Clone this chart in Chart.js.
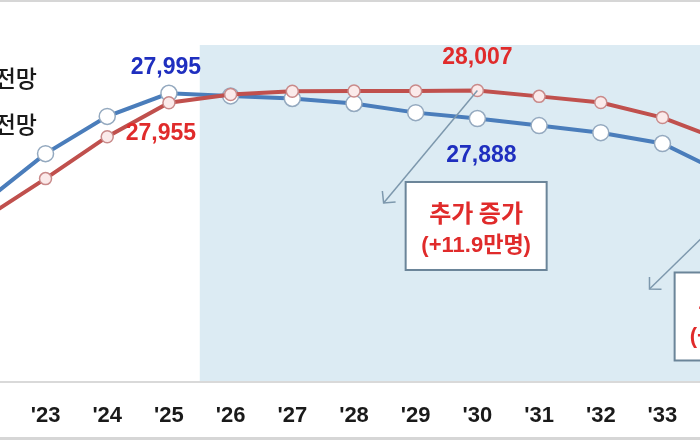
<!DOCTYPE html>
<html><head><meta charset="utf-8">
<script src="https://cdn.jsdelivr.net/npm/chart.js@4.4.1/dist/chart.umd.min.js"></script>
<style>
html,body{margin:0;padding:0;background:#fff;}
#wrap{position:relative;width:700px;height:440px;overflow:hidden;background:#fff;}
#inner{position:absolute;left:-47px;top:0;width:802px;height:440px;}
.frameTop{position:absolute;left:0;top:0;width:700px;height:2px;background:#d6d6d6;}
.frameBot{position:absolute;left:0;bottom:0;width:700px;height:3px;background:#d6d6d6;}
</style></head>
<body>
<div id="wrap"><div id="inner"><canvas id="c"></canvas></div><div class="frameTop"></div><div class="frameBot"></div></div>
<script>
// ---- data ----
const years = ["'22","'23","'24","'25","'26","'27","'28","'29","'30","'31","'32","'33","'34"];
const bluePrev = [27531,27739,27897,27995,27984,27973,27952,27913,27888,27858,27828,27782,27654];
const redNew   = [27463,27633,27811,27955,27990,28004,28005,28005,28007,27982,27956,27892,27792];
const legendTexts = ["전망","전망"];
const noteTexts = [["추가 증가","(+11.9만명)"],["추가 증가","(+30.0만명)"]];

const latin = '"Liberation Sans", "Noto Sans CJK KR", sans-serif';
const BLUE_TXT = '#1f2fbf', RED_TXT = '#e02b2b';

const overlay = {
  id:'overlay',
  beforeDatasetsDraw(chart){
    const {ctx, chartArea:a, scales:{x}} = chart;
    const x0 = (x.getPixelForValue(3) + x.getPixelForValue(4)) / 2;
    ctx.save();
    ctx.fillStyle = '#dcebf3';
    ctx.fillRect(x0, a.top, a.right - x0, a.bottom - a.top - 1);
    ctx.restore();
  },
  afterDatasetsDraw(chart){
    const {ctx, scales:{x,y}} = chart;
    const px = i => x.getPixelForValue(i);
    const py = v => y.getPixelForValue(v);
    ctx.save();
    // arrows
    function arrow(x1,y1,x2,y2){
      ctx.strokeStyle = '#7d98ad'; ctx.lineWidth = 1.5;
      ctx.beginPath(); ctx.moveTo(x1,y1); ctx.lineTo(x2,y2); ctx.stroke();
      const ang = Math.atan2(y1-y2, x1-x2);
      const L = 12;
      ctx.beginPath();
      ctx.moveTo(x2 + L*Math.cos(ang+0.8), y2 + L*Math.sin(ang+0.8));
      ctx.lineTo(x2,y2);
      ctx.lineTo(x2 + L*Math.cos(ang-0.8), y2 + L*Math.sin(ang-0.8));
      ctx.stroke();
    }
    arrow(px(8), py(redNew[8]), px(6.48), py(27530));
    arrow(px(12.6), py(27627), px(10.79), py(27165));
    // note boxes
    function box(ci, cv, lines){
      const cx = px(ci), cy = py(cv), w = 141, h = 88;
      ctx.fillStyle = '#ffffff';
      ctx.fillRect(cx-w/2, cy-h/2, w, h);
      ctx.strokeStyle = '#6b8599'; ctx.lineWidth = 2;
      ctx.strokeRect(cx-w/2, cy-h/2, w, h);
      ctx.fillStyle = RED_TXT; ctx.textAlign = 'center'; ctx.textBaseline = 'middle';
      ctx.font = 'bold 24px "Noto Sans CJK KR", sans-serif';
      ctx.fillText(lines[0], cx, cy-13);
      ctx.font = 'bold 22px ' + latin;
      ctx.fillText(lines[1], cx, cy+20);
    }
    box(7.98, 27432, noteTexts[0]);
    box(12.34, 27048, noteTexts[1]);
    // value labels
    ctx.font = 'bold 23px ' + latin;
    ctx.textAlign = 'center'; ctx.textBaseline = 'middle';
    const fmt = v => v.toLocaleString('en-US');
    ctx.fillStyle = BLUE_TXT;
    ctx.fillText(fmt(bluePrev[3]), px(3)-3, py(bluePrev[3])-26);
    ctx.fillText(fmt(bluePrev[8]), px(8)+4, py(bluePrev[8])+37);
    ctx.fillStyle = RED_TXT;
    ctx.fillText(fmt(redNew[3]), px(3)-8, py(redNew[3])+31);
    ctx.fillText(fmt(redNew[8]), px(8), py(redNew[8])-33);
    // legend texts (cropped)
    ctx.fillStyle = '#1a1a1a'; ctx.textAlign = 'right';
    ctx.font = '500 23px "Noto Sans CJK KR", sans-serif';
    ctx.fillText(legendTexts[0], 84, 78);
    ctx.fillText(legendTexts[1], 84, 124);
    ctx.restore();
  }
};

new Chart(document.getElementById('c'), {
  type:'line',
  data:{
    labels: years,
    datasets:[
      {label:'신규 전망', data: redNew, borderColor:'#c0504d', borderWidth:4,
       pointRadius:6, pointBackgroundColor:'#fbeaea', pointBorderColor:'#c98a8a', pointBorderWidth:1.5, tension:0},
      {label:'기존 전망', data: bluePrev, borderColor:'#4a7dbb', borderWidth:4,
       pointRadius:8, pointBackgroundColor:'#ffffff', pointBorderColor:'#94a9bf', pointBorderWidth:1.5, tension:0}
    ]
  },
  options:{
    responsive:true, maintainAspectRatio:false, animation:false,
    layout:{autoPadding:false, padding:{top:45,left:0,right:0,bottom:0}},
    plugins:{legend:{display:false}, tooltip:{enabled:false}},
    scales:{
      x:{offset:true,
         grid:{display:false, drawTicks:false},
         border:{display:true, color:'#d9d9d9', width:2},
         ticks:{padding:21, color:'#1a1a1a', font:{family:latin, size:22, weight:'bold'}},
         afterFit(s){ s.height = 58; s.paddingLeft = 0; s.paddingRight = 0; }},
      y:{display:false, min:26770, max:28200}
    }
  },
  plugins:[overlay]
});
</script>
</body></html>
